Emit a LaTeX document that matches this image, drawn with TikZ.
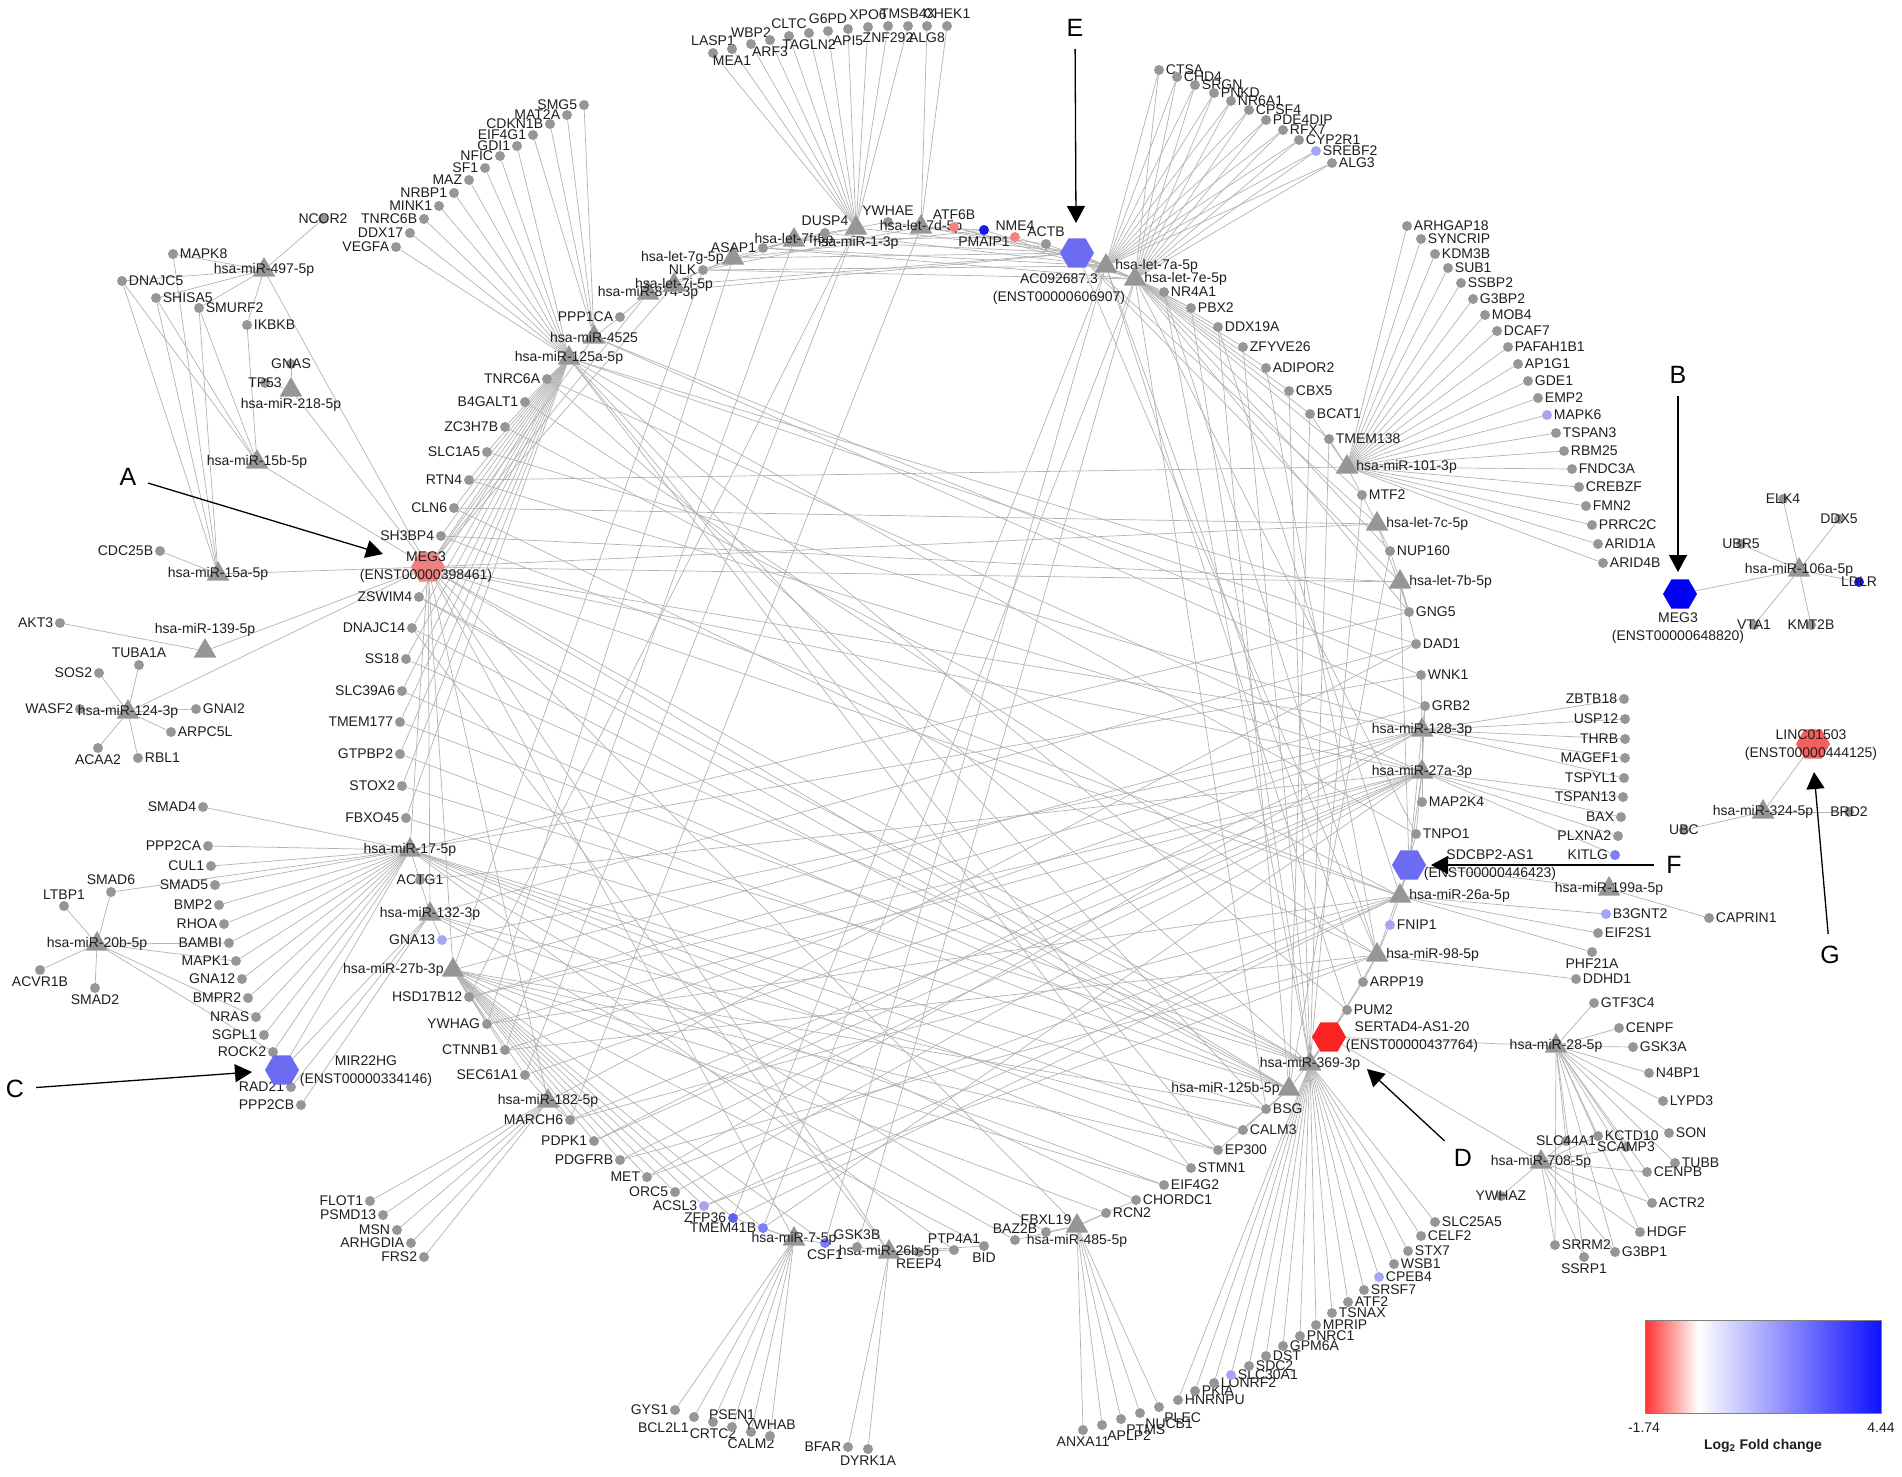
\documentclass[tikz,border=0pt]{standalone}
\usepackage{fontspec}
\setmainfont{Liberation Sans}
\usetikzlibrary{shapes.geometric,arrows.meta}
\pgfdeclarelayer{bg}
\pgfsetlayers{bg,main}
\definecolor{dotgray}{RGB}{150,150,150}
\definecolor{edgec}{RGB}{178,178,178}
\definecolor{lb}{RGB}{165,165,245}
\definecolor{mb}{RGB}{125,125,245}
\definecolor{db}{RGB}{95,95,240}
\definecolor{bb}{RGB}{25,25,230}
\definecolor{pk}{RGB}{245,130,130}
\definecolor{hexmid}{RGB}{108,108,242}
\definecolor{hexblue}{RGB}{0,0,245}
\definecolor{hexpink}{RGB}{240,128,128}
\definecolor{hexred}{RGB}{250,35,35}
\definecolor{hexsalmon}{RGB}{245,95,95}
\definecolor{txt}{RGB}{30,30,30}
\definecolor{cbred}{RGB}{255,50,50}
\definecolor{cbblue}{RGB}{15,15,255}
\newcommand\gnd[4][dotgray]{\node[gene,fill=#1,label={[lbl]#4:#2}] (#2) at (#3) {};}
\newcommand\mrn[4]{\node[mir,label={[lbl]#4:#3}] (#1) at (#2) {};}
\begin{document}
\begin{tikzpicture}[x=1pt,y=-1pt,
 gene/.style={circle,inner sep=0pt,minimum size=10pt},
 mir/.style={regular polygon,regular polygon sides=3,fill=dotgray,inner sep=0pt,minimum size=26pt},
 lnc/.style={regular polygon,regular polygon sides=6,inner sep=0pt,minimum size=34pt},
 lbl/.style={font=\fontsize{14}{17}\selectfont,inner sep=1.5pt,text=txt},
 hexlbl/.style={lbl,align=center,font=\fontsize{14}{18}\selectfont},
 edge/.style={draw=edgec,line width=0.7pt},
 letter/.style={font=\fontsize{25}{30}\selectfont,inner sep=2pt},
 arr/.style={draw=black,line width=1.3pt,-{Triangle[length=17pt,width=18pt]},shorten <=10pt},
 label distance=0pt]
\useasboundingbox (0,0) rectangle (1902,1476);
% ---------- top-left cluster
\gnd{NCOR2}{323,219}{center}
\gnd{MAPK8}{173,254}{right}
\gnd{DNAJC5}{122,281}{right}
\gnd{SHISA5}{156,298}{right}
\gnd{SMURF2}{199,308}{right}
\gnd{IKBKB}{247,325}{right}
\gnd{GNAS}{291,364}{center}
\gnd{TP53}{265,383}{center}
\gnd{CDC25B}{160,551}{left}
\gnd{AKT3}{60,623}{left}
\gnd{TUBA1A}{139,665}{above}
\gnd{SOS2}{99,673}{left}
\gnd{WASF2}{80,709}{left}
\gnd{GNAI2}{196,709}{right}
\gnd{ARPC5L}{171,732}{right}
\gnd{ACAA2}{98,748}{below}
\gnd{RBL1}{138,758}{right}
\mrn{m497}{264,270}{hsa-miR-497-5p}{center}
\mrn{m218}{291,390}{hsa-miR-218-5p}{below}
\mrn{m15b}{257,462}{hsa-miR-15b-5p}{center}
\mrn{m15a}{218,574}{hsa-miR-15a-5p}{center}
\mrn{m139}{205,651}{hsa-miR-139-5p}{above}
\mrn{m124}{128,712}{hsa-miR-124-3p}{center}
% ---------- bottom-left cluster
\gnd{SMAD4}{203,807}{left}
\gnd{PPP2CA}{208,846}{left}
\gnd{CUL1}{211,866}{left}
\gnd{SMAD5}{215,885}{left}
\gnd{BMP2}{219,905}{left}
\gnd{RHOA}{224,924}{left}
\gnd{BAMBI}{229,943}{left}
\gnd{MAPK1}{236,961}{left}
\gnd{GNA12}{242,979}{left}
\gnd{BMPR2}{248,998}{left}
\gnd{NRAS}{256,1017}{left}
\gnd{SGPL1}{264,1035}{left}
\gnd{ROCK2}{273,1052}{left}
\gnd{SMAD6}{111,892}{above}
\gnd{LTBP1}{64,906}{above}
\gnd{ACVR1B}{40,970}{below}
\gnd{SMAD2}{95,988}{below}
\gnd{RAD21}{291,1087}{left}
\gnd{PPP2CB}{301,1105}{left}
\mrn{m20b}{97,944}{hsa-miR-20b-5p}{center}
\mrn{m17}{410,850}{hsa-miR-17-5p}{center}
\gnd{ACTG1}{420,880}{center}
\mrn{m132}{430,914}{hsa-miR-132-3p}{center}
\gnd[lb]{GNA13}{442,940}{left}
\mrn{m27b}{453,970}{hsa-miR-27b-3p}{left}
\node[lnc,fill=hexmid] (MIR22HG) at (282,1070) {};
\node[hexlbl] (MIR22HGt) at (366,1071) {MIR22HG\\(ENST00000334146)};
% ---------- top-left fan
\gnd{SMG5}{584,105}{left}
\gnd{MAT2A}{567,115}{left}
\gnd{CDKN1B}{550,124}{left}
\gnd{EIF4G1}{533,135}{left}
\gnd{GDI1}{517,146}{left}
\gnd{NFIC}{500,156}{left}
\gnd{SF1}{485,168}{left}
\gnd{MAZ}{469,180}{left}
\gnd{NRBP1}{454,193}{left}
\gnd{MINK1}{439,206}{left}
\gnd{TNRC6B}{424,219}{left}
\gnd{DDX17}{410,233}{left}
\gnd{VEGFA}{396,247}{left}
% ---------- top row
\gnd{LASP1}{713,53}{above}
\gnd{MEA1}{732,49}{below}
\gnd{WBP2}{751,44}{above}
\gnd{ARF3}{770,40}{below}
\gnd{CLTC}{789,36}{above}
\gnd{TAGLN2}{809,33}{below}
\gnd{G6PD}{828,31}{above}
\gnd{API5}{848,29}{below}
\gnd{XPO6}{868,27}{above}
\gnd{ZNF292}{888,26}{below}
\gnd{TMSB4X}{908,26}{above}
\gnd{ALG8}{927,26}{below}
\gnd{CHEK1}{947,26}{above}
% ---------- top arc
\gnd{PPP1CA}{620,317}{left}
\mrn{m4525}{594,337}{hsa-miR-4525}{center}
\mrn{m125a}{569,358}{hsa-miR-125a-5p}{center}
\mrn{m874}{648,293}{hsa-miR-874-3p}{center}
\mrn{l7i}{674,285}{hsa-let-7i-5p}{center}
\gnd{NLK}{703,270}{left}
\mrn{l7g}{733,258}{hsa-let-7g-5p}{left}
\gnd{ASAP1}{763,248}{left}
\mrn{l7f}{794,240}{hsa-let-7f-5p}{center}
\gnd{DUSP4}{825,233}{above}
\mrn{m1}{856,228}{hsa-miR-1-3p}{below}
\gnd{YWHAE}{888,222}{above}
\mrn{l7d}{921,227}{hsa-let-7d-5p}{center}
\gnd[pk]{ATF6B}{954,227}{above}
\gnd[bb]{PMAIP1}{984,230}{below}
\gnd[pk]{NME4}{1015,237}{above}
\gnd{ACTB}{1046,244}{above}
\node[lnc,fill=hexmid] (ACx) at (1077,253) {};
\node[hexlbl] (ACxt) at (1059,289) {AC092687.3\\(ENST00000606907)};
\mrn{l7a}{1106,266}{hsa-let-7a-5p}{right}
\mrn{l7e}{1135,279}{hsa-let-7e-5p}{right}
% ---------- top-right fan
\gnd{CTSA}{1159,70}{right}
\gnd{CHD4}{1177,77}{right}
\gnd{SRGN}{1195,85}{right}
\gnd{PNKD}{1214,93}{right}
\gnd{NR6A1}{1231,101}{right}
\gnd{CPSF4}{1249,110}{right}
\gnd{PDE4DIP}{1266,120}{right}
\gnd{RFX7}{1283,130}{right}
\gnd{CYP2R1}{1299,140}{right}
\gnd[lb]{SREBF2}{1316,151}{right}
\gnd{ALG3}{1332,163}{right}
% ---------- right arc
\gnd{NR4A1}{1164,292}{right}
\gnd{PBX2}{1191,308}{right}
\gnd{DDX19A}{1218,327}{right}
\gnd{ZFYVE26}{1243,347}{right}
\gnd{ADIPOR2}{1266,368}{right}
\gnd{CBX5}{1289,391}{right}
\gnd{BCAT1}{1310,414}{right}
\gnd{TMEM138}{1329,439}{right}
\mrn{m101}{1347,467}{hsa-miR-101-3p}{right}
\gnd{MTF2}{1362,495}{right}
\mrn{l7c}{1377,524}{hsa-let-7c-5p}{right}
\gnd{NUP160}{1390,551}{right}
\mrn{l7b}{1400,582}{hsa-let-7b-5p}{right}
\gnd{GNG5}{1409,612}{right}
\gnd{DAD1}{1416,644}{right}
\gnd{WNK1}{1421,675}{right}
\gnd{GRB2}{1425,706}{right}
\mrn{m128}{1422,730}{hsa-miR-128-3p}{center}
\mrn{m27a}{1422,772}{hsa-miR-27a-3p}{center}
\gnd{MAP2K4}{1422,802}{right}
\gnd{TNPO1}{1416,834}{right}
\node[lnc,fill=hexmid] (SDCx) at (1409,865) {};
\node[hexlbl] (SDCxt) at (1490,865) {SDCBP2-AS1\\(ENST00000446423)};
\mrn{m26a}{1400,896}{hsa-miR-26a-5p}{right}
\gnd[lb]{FNIP1}{1390,925}{right}
\mrn{m98}{1377,955}{hsa-miR-98-5p}{right}
\gnd{ARPP19}{1363,982}{right}
\gnd{PUM2}{1347,1010}{right}
\node[lnc,fill=hexred] (SERx) at (1329,1037) {};
\node[hexlbl] (SERxt) at (1412,1037) {SERTAD4-AS1-20\\(ENST00000437764)};
\mrn{m369}{1310,1064}{hsa-miR-369-3p}{center}
\mrn{m125b}{1289,1089}{hsa-miR-125b-5p}{left}
\gnd{BSG}{1266,1109}{right}
\gnd{CALM3}{1243,1130}{right}
\gnd{EP300}{1218,1150}{right}
\gnd{STMN1}{1191,1168}{right}
\gnd{EIF4G2}{1164,1185}{right}
\gnd{CHORDC1}{1136,1200}{right}
\gnd{RCN2}{1106,1213}{right}
\mrn{m485}{1077,1226}{hsa-miR-485-5p}{below}
\gnd{FBXL19}{1046,1232}{above}
\gnd{BAZ2B}{1015,1240}{above}
\gnd{BID}{984,1246}{below}
\gnd{PTP4A1}{954,1250}{above}
\gnd{REEP4}{919,1252}{below}
\mrn{m26b}{889,1252}{hsa-miR-26b-5p}{center}
\gnd{GSK3B}{857,1247}{above}
\gnd[mb]{CSF1}{825,1243}{below}
\mrn{m7}{794,1239}{hsa-miR-7-5p}{center}
\gnd[mb]{TMEM41B}{763,1228}{left}
\gnd[db]{ZFP36}{733,1218}{left}
\gnd[lb]{ACSL3}{704,1206}{left}
\gnd{ORC5}{675,1192}{left}
\gnd{MET}{647,1177}{left}
\gnd{PDGFRB}{620,1160}{left}
\gnd{PDPK1}{594,1141}{left}
\gnd{MARCH6}{570,1120}{left}
\mrn{m182}{548,1101}{hsa-miR-182-5p}{center}
\gnd{SEC61A1}{525,1075}{left}
\gnd{CTNNB1}{505,1050}{left}
\gnd{YWHAG}{487,1024}{left}
\gnd{HSD17B12}{469,997}{left}
% ---------- left arc
\gnd{FBXO45}{406,818}{left}
\gnd{STOX2}{402,786}{left}
\gnd{GTPBP2}{400,754}{left}
\gnd{TMEM177}{400,722}{left}
\gnd{SLC39A6}{402,691}{left}
\gnd{SS18}{406,659}{left}
\gnd{DNAJC14}{412,628}{left}
\gnd{ZSWIM4}{419,597}{left}
\node[lnc,fill=hexpink] (MEGp) at (428,567) {};
\node[hexlbl] (MEGpt) at (426,567) {MEG3\\(ENST00000398461)};
\gnd{SH3BP4}{441,536}{left}
\gnd{CLN6}{454,508}{left}
\gnd{RTN4}{469,480}{left}
\gnd{SLC1A5}{487,452}{left}
\gnd{ZC3H7B}{505,427}{left}
\gnd{B4GALT1}{525,402}{left}
\gnd{TNRC6A}{547,379}{left}
% ---------- miR-101 fan
\gnd{ARHGAP18}{1407,226}{right}
\gnd{SYNCRIP}{1421,239}{right}
\gnd{KDM3B}{1435,254}{right}
\gnd{SUB1}{1448,268}{right}
\gnd{SSBP2}{1461,283}{right}
\gnd{G3BP2}{1473,299}{right}
\gnd{MOB4}{1485,315}{right}
\gnd{DCAF7}{1497,331}{right}
\gnd{PAFAH1B1}{1508,347}{right}
\gnd{AP1G1}{1518,364}{right}
\gnd{GDE1}{1528,381}{right}
\gnd{EMP2}{1538,398}{right}
\gnd[lb]{MAPK6}{1547,415}{right}
\gnd{TSPAN3}{1556,433}{right}
\gnd{RBM25}{1564,451}{right}
\gnd{FNDC3A}{1572,469}{right}
\gnd{CREBZF}{1579,487}{right}
\gnd{FMN2}{1586,506}{right}
\gnd{PRRC2C}{1592,525}{right}
\gnd{ARID1A}{1598,544}{right}
\gnd{ARID4B}{1603,563}{right}
% ---------- miR-128 / 27a fan
\gnd{ZBTB18}{1624,699}{left}
\gnd{USP12}{1625,719}{left}
\gnd{THRB}{1625,739}{left}
\gnd{MAGEF1}{1625,758}{left}
\gnd{TSPYL1}{1624,778}{left}
\gnd{TSPAN13}{1623,797}{left}
\gnd{BAX}{1621,817}{left}
\gnd{PLXNA2}{1618,836}{left}
\gnd[mb]{KITLG}{1615,855}{left}
\mrn{m199a}{1609,889}{hsa-miR-199a-5p}{center}
\gnd[lb]{B3GNT2}{1606,914}{right}
\gnd{EIF2S1}{1598,933}{right}
\gnd{PHF21A}{1592,952}{below}
\gnd{DDHD1}{1576,979}{right}
\gnd{CAPRIN1}{1709,918}{right}
% ---------- bottom fans
\gnd{FLOT1}{370,1201}{left}
\gnd{PSMD13}{383,1215}{left}
\gnd{MSN}{397,1230}{left}
\gnd{ARHGDIA}{411,1243}{left}
\gnd{FRS2}{424,1257}{left}
\gnd{GYS1}{675,1410}{left}
\gnd{BCL2L1}{694,1417}{below left}
\gnd{CRTC2}{713,1422}{below}
\gnd{PSEN1}{732,1427}{above}
\gnd{CALM2}{751,1432}{below}
\gnd{YWHAB}{770,1436}{above}
\gnd{BFAR}{848,1447}{left}
\gnd{DYRK1A}{868,1449}{below}
\gnd{ANXA11}{1083,1430}{below}
\gnd{APLP2}{1102,1425}{below right}
\gnd{PTMS}{1121,1419}{below right}
\gnd{NUCB1}{1140,1413}{below right}
\gnd{PLEC}{1159,1407}{below right}
\gnd{HNRNPU}{1178,1400}{right}
\gnd{PKIA}{1195,1391}{right}
\gnd{LONRF2}{1214,1383}{right}
\gnd[lb]{SLC30A1}{1231,1375}{right}
\gnd{SDC2}{1249,1366}{right}
\gnd{DST}{1266,1356}{right}
\gnd{GPM6A}{1283,1346}{right}
\gnd{PNRC1}{1300,1336}{right}
\gnd{MPRIP}{1316,1325}{right}
\gnd{TSNAX}{1332,1313}{right}
\gnd{ATF2}{1348,1302}{right}
\gnd{SRSF7}{1364,1290}{right}
\gnd[lb]{CPEB4}{1379,1277}{right}
\gnd{WSB1}{1394,1264}{right}
\gnd{STX7}{1408,1251}{right}
\gnd{CELF2}{1421,1236}{right}
\gnd{SLC25A5}{1435,1222}{right}
% ---------- miR-28 / 708 cluster
\mrn{m28}{1556,1046}{hsa-miR-28-5p}{center}
\gnd{GTF3C4}{1594,1003}{right}
\gnd{CENPF}{1619,1028}{right}
\gnd{GSK3A}{1633,1047}{right}
\gnd{N4BP1}{1649,1073}{right}
\gnd{LYPD3}{1663,1101}{right}
\gnd{SON}{1669,1133}{right}
\gnd{KCTD10}{1598,1136}{right}
\gnd{SCAMP3}{1626,1147}{center}
\gnd{SLC44A1}{1566,1141}{center}
\gnd{TUBB}{1675,1163}{right}
\gnd{CENPB}{1647,1172}{right}
\mrn{m708}{1541,1162}{hsa-miR-708-5p}{center}
\gnd{YWHAZ}{1501,1196}{center}
\gnd{ACTR2}{1652,1203}{right}
\gnd{HDGF}{1640,1232}{right}
\gnd{SRRM2}{1555,1245}{right}
\gnd{G3BP1}{1615,1252}{right}
\gnd{SSRP1}{1584,1257}{below}
% ---------- far right
\node[lnc,fill=hexblue] (MEGb) at (1680,594) {};
\node[hexlbl] (MEGbt) at (1678,628) {MEG3\\(ENST00000648820)};
\mrn{m106a}{1799,570}{hsa-miR-106a-5p}{center}
\gnd{ELK4}{1783,499}{center}
\gnd{DDX5}{1839,519}{center}
\gnd{UBR5}{1741,544}{center}
\gnd[bb]{LDLR}{1859,582}{center}
\gnd{VTA1}{1754,625}{center}
\gnd{KMT2B}{1811,625}{center}
\node[lnc,fill=hexsalmon] (LINC) at (1813,744) {};
\node[hexlbl] (LINCt) at (1811,745) {LINC01503\\(ENST00000444125)};
\mrn{m324}{1763,812}{hsa-miR-324-5p}{center}
\gnd{BRD2}{1849,812}{center}
\gnd{UBC}{1684,830}{center}
% ---------- edges
\begin{pgfonlayer}{bg}
\foreach \t in {NCOR2,MAPK8,DNAJC5,SHISA5,SMURF2,IKBKB,MEGp} \draw[edge] (m497) -- (\t);
\foreach \t in {DNAJC5,SHISA5,SMURF2,IKBKB,MEGp} \draw[edge] (m15b) -- (\t);
\foreach \t in {MAPK8,DNAJC5,SHISA5,SMURF2,CDC25B,MEGp} \draw[edge] (m15a) -- (\t);
\foreach \t in {GNAS,TP53,MEGp} \draw[edge] (m218) -- (\t);
\foreach \t in {AKT3,MEGp} \draw[edge] (m139) -- (\t);
\foreach \t in {TUBA1A,SOS2,WASF2,GNAI2,ARPC5L,ACAA2,RBL1,MEGp} \draw[edge] (m124) -- (\t);
\foreach \t in {LTBP1,SMAD6,ACVR1B,SMAD2,BAMBI,MAPK1,NRAS,ROCK2} \draw[edge] (m20b) -- (\t);
\foreach \t in {SMAD4,PPP2CA,CUL1,SMAD5,BMP2,RHOA,BAMBI,MAPK1,GNA12,BMPR2,NRAS,SGPL1,ROCK2,SMAD6,MIR22HG,ACTG1,BSG,CALM3,EP300,STMN1,CHORDC1,FBXL19,PTP4A1,GNG5,WNK1,MEGp} \draw[edge] (m17) -- (\t);
\foreach \t in {RAD21,PPP2CB,MIR22HG,ACTG1,GNA13,CALM3,EIF4G2,BAZ2B,DAD1,MEGp} \draw[edge] (m132) -- (\t);
\foreach \t in {GDI1,NFIC,SF1,MAZ,NRBP1,MINK1,TNRC6B,DDX17,VEGFA,TNRC6A,B4GALT1,ZC3H7B,SLC1A5,RTN4,CLN6,SH3BP4,ZSWIM4,DNAJC14,SS18,SLC39A6,TMEM177,GTPBP2,STOX2,FBXO45,MEGp,BSG,EP300,STMN1,PUM2,TNPO1,GNG5,DAD1} \draw[edge] (m125a) -- (\t);
\foreach \t in {SMG5,MAT2A,CDKN1B,EIF4G1,PPP1CA,MEGp,WNK1,GRB2} \draw[edge] (m4525) -- (\t);
\foreach \t in {PPP1CA,NLK,MEGp,ACx} \draw[edge] (m874) -- (\t);
\foreach \t in {LASP1,MEA1,WBP2,ARF3,CLTC,TAGLN2,G6PD,API5,XPO6,ZNF292,TMSB4X,YWHAE,DUSP4,ASAP1,ACx,SEC61A1,HSD17B12} \draw[edge] (m1) -- (\t);
\foreach \t in {ALG8,CHEK1,YWHAE,ATF6B,PMAIP1,NLK,ACTB,ACx,MARCH6} \draw[edge] (l7d) -- (\t);
\foreach \t in {CTSA,CHD4,SRGN,PNKD,NR6A1,CPSF4,PDE4DIP,RFX7,CYP2R1,SREBF2,ALG3,NR4A1,PBX2,ACx,NLK,ASAP1,DUSP4,ACTB,NME4,ATF6B,PUM2,ARPP19,ZFP36,CSF1} \draw[edge] (l7a) -- (\t);
\foreach \t in {CTSA,CHD4,SRGN,PNKD,NR6A1,CPSF4,PDE4DIP,RFX7,CYP2R1,SREBF2,ALG3,NR4A1,PBX2,DDX19A,ZFYVE26,ADIPOR2,CBX5,BCAT1,TMEM138,MTF2,NUP160,GNG5,ACx,NLK,ASAP1,PMAIP1,ATF6B,BSG,TNPO1,GSK3B,TMEM41B} \draw[edge] (l7e) -- (\t);
\foreach \t in {ACx,NLK,ASAP1,DUSP4,NME4,CTNNB1} \draw[edge] (l7f) -- (\t);
\foreach \t in {ACx,NLK,ASAP1,PMAIP1,YWHAG} \draw[edge] (l7g) -- (\t);
\foreach \t in {ACx,NLK,MEGp} \draw[edge] (l7i) -- (\t);
\foreach \t in {ACx,MTF2,NUP160,GNG5,MEGp,CLN6} \draw[edge] (l7c) -- (\t);
\foreach \t in {ACx,NUP160,GNG5,DAD1,MEGp,SH3BP4,SDCx} \draw[edge] (l7b) -- (\t);
\foreach \t in {ARHGAP18,SYNCRIP,KDM3B,SUB1,SSBP2,G3BP2,MOB4,DCAF7,PAFAH1B1,AP1G1,GDE1,EMP2,MAPK6,TSPAN3,RBM25,FNDC3A,CREBZF,FMN2,PRRC2C,ARID1A,ARID4B,TMEM138,BCAT1,MTF2,RTN4} \draw[edge] (m101) -- (\t);
\foreach \t in {ZBTB18,USP12,THRB,MAGEF1,TSPYL1,GRB2,WNK1,MAP2K4,SDCx,MEGp,SLC1A5,HSD17B12,CTNNB1,PDPK1,MET,GNA13} \draw[edge] (m128) -- (\t);
\foreach \t in {TSPAN13,BAX,PLXNA2,KITLG,MAP2K4,TNPO1,SDCx,GRB2,MEGp,RTN4,TNRC6A,HSD17B12,YWHAG,SEC61A1,MARCH6,PDPK1,PDGFRB,ORC5,TMEM41B,ACTG1} \draw[edge] (m27a) -- (\t);
\foreach \t in {B3GNT2,EIF2S1,PHF21A,FNIP1,SDCx,TNPO1,MEGp,SH3BP4,ZC3H7B,YWHAG,MARCH6,MET,ACSL3,ZFP36,DDX19A} \draw[edge] (m26a) -- (\t);
\foreach \t in {DDHD1,FNIP1,ARPP19,SDCx,SERx,ACx,CLN6,B4GALT1,CTNNB1,PDGFRB,ACSL3,NR4A1,ADIPOR2} \draw[edge] (m98) -- (\t);
\foreach \t in {CAPRIN1,SDCx} \draw[edge] (m199a) -- (\t);
\foreach \t in {SERx,PUM2,ARPP19,HNRNPU,PKIA,LONRF2,SLC30A1,SDC2,DST,GPM6A,PNRC1,MPRIP,TSNAX,ATF2,SRSF7,CPEB4,WSB1,STX7,CELF2,SLC25A5,MEGp,ZSWIM4,SS18,TMEM177,STOX2,TNRC6A,NR4A1,PBX2,ZFYVE26,CBX5,TMEM138,MTF2} \draw[edge] (m369) -- (\t);
\foreach \t in {SERx,BSG,CALM3,EP300,MEGp,ZSWIM4,DNAJC14,SLC39A6,GTPBP2,FBXO45,DDX19A,BCAT1,NUP160} \draw[edge] (m125b) -- (\t);
\foreach \t in {GTF3C4,CENPF,GSK3A,N4BP1,LYPD3,SON,TUBB,KCTD10,SCAMP3,SLC44A1,CENPB,ACTR2,HDGF,G3BP1,SSRP1,SRRM2,SERx} \draw[edge] (m28) -- (\t);
\foreach \t in {YWHAZ,SLC44A1,KCTD10,SCAMP3,CENPB,ACTR2,HDGF,G3BP1,SSRP1,SRRM2,SERx} \draw[edge] (m708) -- (\t);
\foreach \t in {ANXA11,APLP2,PTMS,NUCB1,PLEC,RCN2,FBXL19,BAZ2B,CHORDC1,MEGp} \draw[edge] (m485) -- (\t);
\foreach \t in {BFAR,DYRK1A,REEP4,GSK3B,PTP4A1,BID,MEGp,DNAJC14} \draw[edge] (m26b) -- (\t);
\foreach \t in {GYS1,BCL2L1,CRTC2,PSEN1,CALM2,YWHAB,CSF1,TMEM41B,ZFP36,MEGp} \draw[edge] (m7) -- (\t);
\foreach \t in {FLOT1,PSMD13,MSN,ARHGDIA,FRS2,MARCH6,SEC61A1,MEGp,DAD1} \draw[edge] (m182) -- (\t);
\foreach \t in {HSD17B12,YWHAG,CTNNB1,SEC61A1,MARCH6,PDPK1,PDGFRB,MET,ORC5,ACSL3,ZFP36,TMEM41B,CSF1,BSG,EP300,EIF4G2,RCN2,BID,GRB2,NLK,MEGp} \draw[edge] (m27b) -- (\t);
\foreach \t in {ELK4,DDX5,UBR5,LDLR,VTA1,KMT2B,MEGb} \draw[edge] (m106a) -- (\t);
\foreach \t in {LINC,BRD2,UBC} \draw[edge] (m324) -- (\t);
\end{pgfonlayer}
% ---------- callout arrows
\node[letter] (LA) at (128,477) {A};
\coordinate (Atip) at (383,554);
\draw[arr] (LA) -- (Atip);
\node[letter] (LB) at (1678,375) {B};
\coordinate (Btip) at (1678,572);
\draw[arr] (LB) -- (Btip);
\node[letter] (LC) at (15,1089) {C};
\coordinate (Ctip) at (252,1072);
\draw[arr] (LC) -- (Ctip);
\node[letter] (LD) at (1463,1158) {D};
\coordinate (Dtip) at (1367,1069);
\draw[arr] (LD) -- (Dtip);
\node[letter] (LE) at (1075,28) {E};
\coordinate (Etip) at (1076,223);
\draw[arr] (LE) -- (Etip);
\node[letter] (LF) at (1674,865) {F};
\coordinate (Ftip) at (1431,865);
\draw[arr] (LF) -- (Ftip);
\node[letter] (LG) at (1830,955) {G};
\coordinate (Gtip) at (1814,772);
\draw[arr] (LG) -- (Gtip);
% ---------- colour bar
\fill[left color=cbred,right color=white] (1645,1320) rectangle (1698,1413);
\fill[left color=white,right color=cbblue] (1698,1320) rectangle (1881,1413);
\draw[gray,line width=0.8pt] (1645,1320) rectangle (1881,1413);
\node[lbl] (cbmin) at (1644,1428) {-1.74};
\node[lbl] (cbmax) at (1881,1428) {4.44};
\node[lbl,font=\fontsize{14}{17}\selectfont\bfseries] (cbt) at (1763,1446) {Log\textsubscript{2} Fold change};
\end{tikzpicture}
\end{document}
